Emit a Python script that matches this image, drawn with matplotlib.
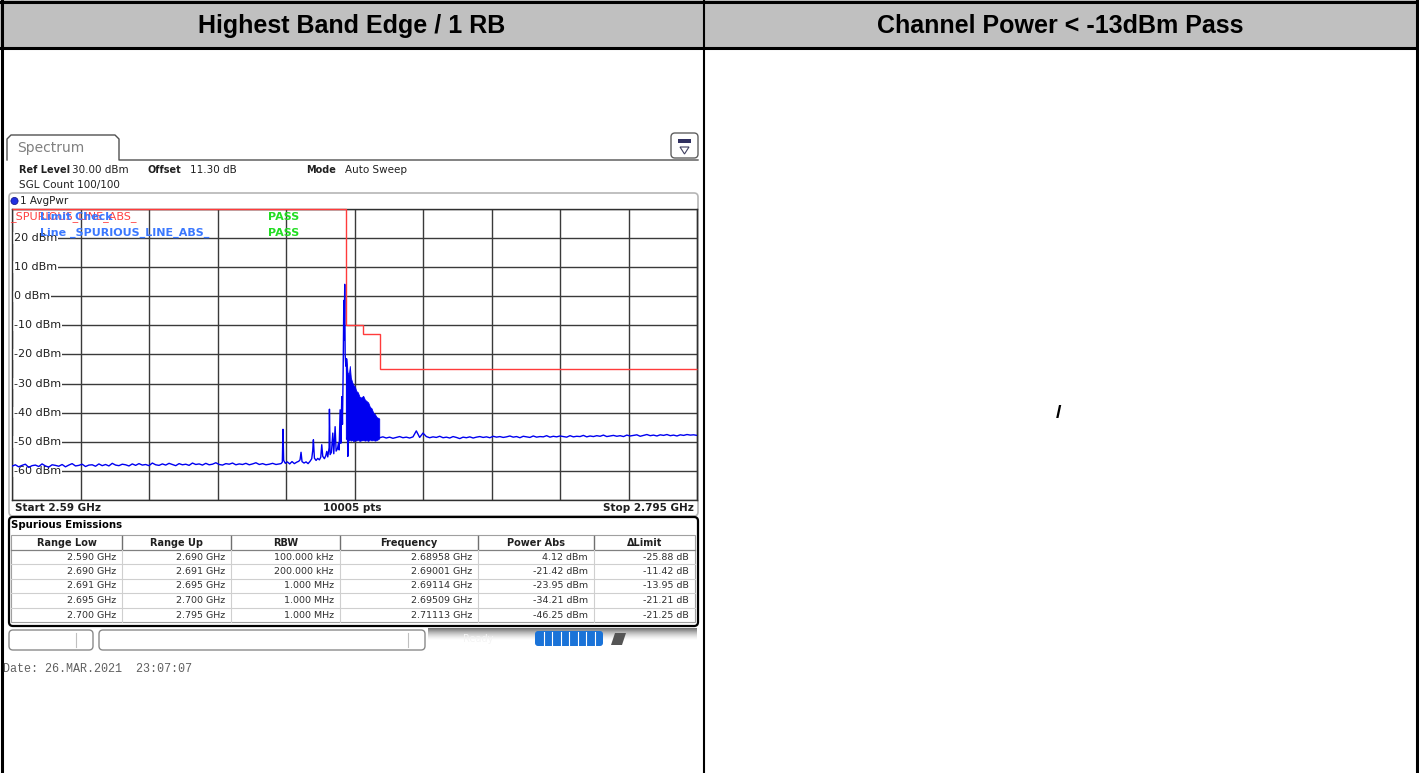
import matplotlib
matplotlib.use('Agg')

import numpy as np
import matplotlib.pyplot as plt
from matplotlib.patches import FancyBboxPatch, Rectangle, Circle, Polygon

W, H = 1419, 773

# --- sweep settings ---
F_START, F_STOP = 2.590, 2.795
LEVEL_TOP, LEVEL_BOTTOM = 30, -70
level_ticks = [20, 10, 0, -10, -20, -30, -40, -50, -60]

# limit line _SPURIOUS_LINE_ABS_ (edges in GHz, level in dBm)
limit_edges = [2.590, 2.690, 2.691, 2.695, 2.700, 2.795]
limit_dbm = [30, -10, -10, -13, -25]

# noise floor below the carrier, 1 MHz steps 2.590 .. 2.670 GHz
floor_low_dbm = [
    -58.4, -57.9, -58.6, -58.1, -57.7, -58.8, -58.2, -58.0, -58.5, -57.6,
    -58.3, -58.7, -57.9, -58.1, -58.4, -57.8, -58.6, -58.0, -57.5, -58.3,
    -58.1, -57.7, -58.5, -58.0, -57.9, -58.4, -57.6, -58.2, -57.8, -58.3,
    -57.4, -58.0, -58.2, -57.7, -57.9, -58.3, -57.6, -58.1, -57.5, -58.0,
    -57.8, -58.2, -57.3, -57.9, -58.1, -57.6, -58.0, -57.4, -57.8, -58.2,
    -57.5, -57.9, -57.7, -58.1, -57.3, -57.8, -57.6, -58.0, -57.4, -57.9,
    -57.7, -57.2, -57.8, -58.0, -57.5, -57.7, -57.3, -57.9, -57.6, -57.8,
    -57.4, -57.9, -57.6, -57.2, -57.8, -57.5, -57.9, -57.7, -57.4, -57.8, -57.6,
]

# spurs and carrier edge
edge_freq = [
    2.6705, 2.6709, 2.6711, 2.6713, 2.6718, 2.6724, 2.6731, 2.6738, 2.6745, 2.6752,
    2.6758, 2.6762, 2.6765, 2.6768, 2.6774, 2.6780, 2.6786, 2.6792, 2.6797, 2.6800,
    2.6802, 2.6805, 2.6810, 2.6815, 2.6820, 2.6824, 2.6827, 2.6830, 2.6835, 2.6839,
    2.6842, 2.6845, 2.6849, 2.6850, 2.6852, 2.6856, 2.6860, 2.6863, 2.6867, 2.6870,
    2.6874, 2.6877, 2.6879, 2.6882, 2.6884, 2.6887, 2.6889, 2.6891, 2.6893, 2.6894,
    2.68958, 2.6897, 2.6899, 2.6901, 2.6903, 2.6905, 2.6907, 2.6910, 2.6950, 2.6990,
    2.6998,
]
edge_dbm = [
    -57.5, -57.0, -45.7, -56.4, -57.4, -56.9, -57.6, -56.8, -57.5, -57.0,
    -56.7, -56.2, -53.6, -56.8, -57.3, -56.9, -57.5, -56.7, -55.8, -53.0,
    -49.3, -55.6, -56.4, -55.7, -56.2, -55.3, -51.0, -55.0, -55.8, -54.8,
    -53.3, -55.2, -52.0, -38.8, -54.4, -53.6, -47.0, -54.1, -44.8, -53.2,
    -52.4, -50.4, -52.8, -39.0, -50.5, -34.5, -44.0, -26.0, -1.4, -15.0,
    4.12, -20.0, -24.0, -21.42, -40.0, -55.0, -43.0, -49.0, -49.3, -48.8,
    -48.5,
]

# dense emission block 2.690 .. 2.700 GHz (upper / lower envelope)
block_freq = [
    2.6899, 2.6901, 2.6904, 2.6908, 2.6911, 2.6914, 2.6918, 2.6922, 2.6926, 2.6930,
    2.6935, 2.6940, 2.6945, 2.6951, 2.6956, 2.6961, 2.6966, 2.6971, 2.6976, 2.6981,
    2.6986, 2.6991, 2.6996, 2.6999,
]
block_top = [
    -24.0, -21.42, -26.0, -27.0, -23.95, -28.0, -29.5, -30.5, -31.0, -32.5,
    -33.0, -34.5, -34.8, -34.21, -35.5, -36.0, -36.5, -38.0, -38.5, -40.0,
    -40.5, -41.5, -41.8, -42.0,
]
block_bottom = [
    -49.0, -48.5, -50.0, -49.5, -49.2, -49.6, -49.3, -49.8, -49.4, -49.6,
    -49.2, -49.7, -49.5, -49.3, -49.6, -49.4, -49.7, -49.2, -49.5, -49.3,
    -49.6, -49.4, -49.1, -48.8,
]

# noise floor above the block, 1 MHz steps 2.700 .. 2.795 GHz
floor_high_dbm = [
    -48.6, -48.3, -48.7, -48.4, -48.8, -48.5, -48.2, -48.6, -48.4, -48.7,
    -48.3, -46.25, -48.5, -47.0, -48.2, -48.6, -48.3, -48.5, -48.1, -48.6,
    -48.4, -48.7, -48.2, -48.5, -48.9, -48.4, -48.6, -48.3, -48.7, -48.4,
    -48.2, -48.5, -48.3, -48.6, -48.1, -48.4, -48.2, -48.5, -48.3, -48.0,
    -48.4, -48.2, -48.6, -48.1, -48.3, -48.5, -48.0, -48.4, -48.2, -48.3,
    -47.9, -48.4, -48.1, -48.3, -48.0, -48.2, -48.4, -47.9, -48.3, -48.1,
    -48.2, -47.8, -48.3, -48.0, -48.2, -47.9, -48.1, -47.7, -48.2, -48.0,
    -47.8, -48.1, -47.9, -48.2, -47.7, -48.0, -47.8, -47.6, -48.1, -47.8,
    -47.5, -47.9, -47.7, -48.0, -47.6, -47.8, -47.5, -47.9, -47.7, -48.0,
    -47.6, -47.8, -47.5, -47.7, -47.6, -47.8,
]

# spurious emissions table
table_headers = ['Range Low', 'Range Up', 'RBW', 'Frequency', 'Power Abs', '\u0394Limit']
range_low = ['2.590 GHz', '2.690 GHz', '2.691 GHz', '2.695 GHz', '2.700 GHz']
range_up = ['2.690 GHz', '2.691 GHz', '2.695 GHz', '2.700 GHz', '2.795 GHz']
rbw = ['100.000 kHz', '200.000 kHz', '1.000 MHz', '1.000 MHz', '1.000 MHz']
peak_freq = [2.68958, 2.69001, 2.69114, 2.69509, 2.71113]
power_abs = [4.12, -21.42, -23.95, -34.21, -46.25]
delta_limit = [-25.88, -11.42, -13.95, -21.21, -21.25]

TRACE = '#0000F0'
GRID = '#3a3a3a'

fig = plt.figure(figsize=(W / 100, H / 100), dpi=100)
fig.patch.set_facecolor('white')

# full-figure canvas in pixel units
bg = fig.add_axes([0, 0, 1, 1])
bg.set_xlim(0, W)
bg.set_ylim(H, 0)
bg.axis('off')

# --- report table frame ---
bg.add_patch(Rectangle((0, 0), W, 48, fc='#C0C0C0', ec='none'))
bg.plot([0, W], [1.5, 1.5], color='black', lw=2.2)
bg.plot([0, W], [48, 48], color='black', lw=2.2)
bg.plot([1.5, 1.5], [0, H], color='black', lw=2.2)
bg.plot([703.5, 703.5], [0, H], color='black', lw=1.5)
bg.plot([1416.5, 1416.5], [0, H], color='black', lw=2.2)
bg.text(352, 26, 'Highest Band Edge / 1 RB', ha='center', va='center',
        fontsize=18, fontweight='bold', family='Liberation Sans')
bg.text(1060, 26, 'Channel Power < -13dBm Pass', ha='center', va='center',
        fontsize=18, fontweight='bold', family='Liberation Sans')
bg.text(1058, 413, '/', ha='center', va='center',
        fontsize=14, fontweight='bold', family='Liberation Sans')

# --- analyzer screen chrome ---
bg.plot([7, 7, 11, 115, 119, 119, 698], [160, 139, 135, 135, 139, 160, 160],
        color='#505050', lw=1.0)
bg.text(17, 148, 'Spectrum', ha='left', va='center', fontsize=10, color='#808080')
bg.add_patch(FancyBboxPatch((671, 133), 27, 25, boxstyle='round,pad=0,rounding_size=4',
                            fc='white', ec='#606060', lw=1.0))
bg.add_patch(Rectangle((678, 139), 13, 4, fc='#303060', ec='none'))
bg.add_patch(Polygon([[680, 147], [689, 147], [684.5, 154]], closed=True,
                     fc='white', ec='#404060', lw=0.8))

info = dict(fontsize=7.5, va='center', ha='left', color='#202020')
key = dict(fontsize=7, fontweight='bold', va='center', ha='left', color='#202020')
bg.text(19, 170, 'Ref Level', **key)
bg.text(72, 170, '30.00 dBm', **info)
bg.text(148, 170, 'Offset', **key)
bg.text(190, 170, '11.30 dB', **info)
bg.text(306, 170, 'Mode', **key)
bg.text(345, 170, 'Auto Sweep', **info)
bg.text(19, 185, 'SGL Count 100/100', **info)

bg.add_patch(FancyBboxPatch((9, 193), 689, 323, boxstyle='round,pad=0,rounding_size=4',
                            fc='white', ec='#b5b5b5', lw=1.2))
bg.add_patch(Circle((14.5, 201), 3.6, fc='#2030E0', ec='#101080', lw=0.5))
bg.text(20, 201, '1 AvgPwr', **info)

bg.text(15, 508, 'Start 2.59 GHz', fontsize=7.5, fontweight='bold', ha='left',
        va='center', color='#202020')
bg.text(352, 508, '10005 pts', fontsize=7.5, fontweight='bold', ha='center',
        va='center', color='#202020')
bg.text(694, 508, 'Stop 2.795 GHz', fontsize=7.5, fontweight='bold', ha='right',
        va='center', color='#202020')

# --- spectrum diagram ---
L, T, R, B = 12, 209, 697, 500
ax = fig.add_axes([L / W, 1 - B / H, (R - L) / W, (B - T) / H])
ax.set_xlim(F_START, F_STOP)
ax.set_ylim(LEVEL_BOTTOM, LEVEL_TOP)
ax.set_xticks(np.linspace(F_START, F_STOP, 11))
ax.set_yticks(range(LEVEL_BOTTOM, LEVEL_TOP + 1, 10))
ax.grid(True, color=GRID, lw=1.0, zorder=0)
ax.set_axisbelow(True)
ax.tick_params(length=0, labelbottom=False, labelleft=False)
for s in ax.spines.values():
    s.set_color('#303030')
    s.set_linewidth(1.0)

for lv in level_ticks:
    ax.text(F_START + 0.0006, lv, f'{lv} dBm', ha='left', va='center',
            fontsize=8, color='#202020', zorder=2,
            bbox=dict(fc='white', ec='none', pad=0.6))

ax.stairs(limit_dbm, limit_edges, baseline=None, color='#FF3B3B', lw=1.0,
          zorder=4, clip_on=False)

low_freq = np.linspace(2.590, 2.670, len(floor_low_dbm))
high_freq = np.linspace(2.700, 2.795, len(floor_high_dbm))
trace_f = np.concatenate([low_freq, edge_freq, high_freq])
trace_v = np.concatenate([floor_low_dbm, edge_dbm, floor_high_dbm])
ax.fill_between(block_freq, block_bottom, block_top, color=TRACE, lw=0.6,
                edgecolor=TRACE, zorder=3)
ax.plot(trace_f, trace_v, color=TRACE, lw=1.0, zorder=3)

lbl = dict(transform=bg.transData, fontsize=8, va='center', ha='left',
           clip_on=False, zorder=5)
ax.text(10, 217, '_SPURIOUS_LINE_ABS_', color='#FF4040', **lbl)
ax.text(40, 217, 'Limit Check', color='#3A78FF', fontweight='bold', **lbl)
ax.text(268, 217, 'PASS', color='#22DD22', fontweight='bold', **lbl)
ax.text(40, 233, 'Line _SPURIOUS_LINE_ABS_', color='#3A78FF', fontweight='bold', **lbl)
ax.text(268, 233, 'PASS', color='#22DD22', fontweight='bold', **lbl)

# --- spurious emissions result table ---
bg.add_patch(FancyBboxPatch((9, 517), 689, 109, boxstyle='round,pad=0,rounding_size=4',
                            fc='white', ec='black', lw=1.6))
bg.text(11, 525, 'Spurious Emissions', fontsize=7.3, fontweight='bold',
        ha='left', va='center', color='black')

cols_x = [11, 122, 231, 340, 478, 594, 695]
row_y = [557, 571.5, 586, 600.5, 615]
bg.add_patch(Rectangle((11, 535), 684, 87, fc='none', ec='#a0a0a0', lw=0.8))
bg.plot([11, 695], [550, 550], color='#808080', lw=0.9)
for y in [564.2, 578.7, 593.2, 607.7]:
    bg.plot([11, 695], [y, y], color='#cfcfcf', lw=0.8)
for x in cols_x[1:-1]:
    bg.plot([x, x], [536, 549], color='#707070', lw=1.0)
    bg.plot([x, x], [550, 622], color='#cfcfcf', lw=0.8)
for i, h in enumerate(table_headers):
    bg.text((cols_x[i] + cols_x[i + 1]) / 2, 542.5, h, fontsize=7, fontweight='bold',
            ha='center', va='center', color='#202020')

rows = zip(range_low, range_up, rbw,
           [f'{f:.5f} GHz' for f in peak_freq],
           [f'{p:.2f} dBm' for p in power_abs],
           [f'{d:.2f} dB' for d in delta_limit])
for r, cells in enumerate(rows):
    for c, cell in enumerate(cells):
        bg.text(cols_x[c + 1] - 6, row_y[r], cell, fontsize=6.8, ha='right',
                va='center', color='#303030')

# --- status bar ---
bg.add_patch(FancyBboxPatch((9, 630), 84, 20, boxstyle='round,pad=0,rounding_size=4',
                            fc='white', ec='#8a8a8a', lw=1.0))
bg.plot([76, 76], [633, 647], color='#c0c0c0', lw=0.8)
bg.add_patch(FancyBboxPatch((99, 630), 326, 20, boxstyle='round,pad=0,rounding_size=4',
                            fc='white', ec='#8a8a8a', lw=1.0))
bg.plot([408, 408], [633, 647], color='#c0c0c0', lw=0.8)
shade = np.linspace(0.0, 1.0, 40).reshape(-1, 1)
bg.imshow(shade, extent=[428, 697, 640, 628], cmap='Greys_r', vmin=-0.6, vmax=1.0,
          aspect='auto', zorder=1)
bg.text(478, 639, 'Ready', fontsize=7, color='#f4f4f4', ha='center', va='center',
        zorder=2)
bg.add_patch(FancyBboxPatch((535, 631), 68, 15, boxstyle='round,pad=0,rounding_size=3',
                            fc='#1a73d8', ec='none', zorder=2))
for k in range(1, 8):
    xs = 535 + k * 68 / 8
    bg.plot([xs, xs], [632, 645], color='white', lw=0.8, zorder=3)
bg.add_patch(Polygon([[611, 645], [615, 633], [626, 633], [622, 645]], closed=True,
                     fc='#555555', ec='none', zorder=2))

bg.text(3, 669, 'Date: 26.MAR.2021  23:07:07', fontsize=8.5, family='Liberation Mono',
        color='#606060', ha='left', va='center')

fig.savefig('out.png', dpi=100, facecolor='white')
